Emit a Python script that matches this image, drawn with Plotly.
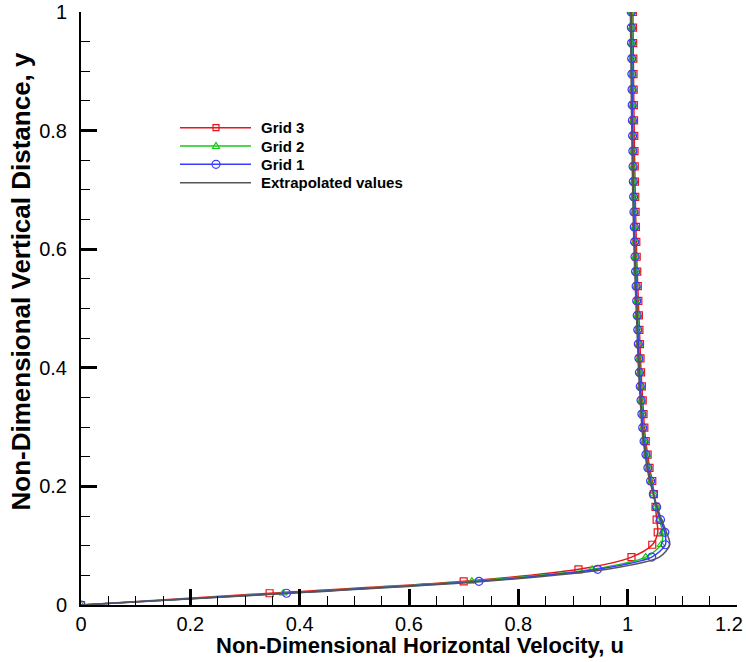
import plotly.graph_objects as go

# Velocity profiles u(y) for three grids and the Richardson-extrapolated profile
y_grid = [0.0, 0.0198, 0.0399, 0.0602, 0.0808, 0.1016, 0.1226, 0.1439, 0.1654, 0.1871,
          0.2091, 0.2313, 0.2537, 0.2763, 0.2991, 0.3220, 0.3452, 0.3686, 0.3922, 0.4160,
          0.4400, 0.4641, 0.4884, 0.5129, 0.5376, 0.5623, 0.5873, 0.6124, 0.6376, 0.6629,
          0.6884, 0.7140, 0.7396, 0.7654, 0.7912, 0.8171, 0.8431, 0.8691, 0.8953, 0.9214,
          0.9476, 0.9738, 1.0]

u_grid3 = [0.000, 0.345, 0.700, 0.910, 1.007, 1.045, 1.055, 1.053, 1.051, 1.048,
           1.045, 1.040, 1.0365, 1.033, 1.0305, 1.029, 1.0275, 1.026, 1.0245, 1.0235,
           1.0225, 1.0215, 1.0205, 1.0195, 1.0185, 1.0175, 1.0165, 1.0158, 1.0151, 1.0145,
           1.0139, 1.0134, 1.0129, 1.0125, 1.0121, 1.0117, 1.0113, 1.0110, 1.0107, 1.0104,
           1.0101, 1.0098, 1.0095]

u_grid2 = [0.000, 0.370, 0.715, 0.935, 1.033, 1.061, 1.064, 1.058, 1.052, 1.047,
           1.043, 1.038, 1.0345, 1.031, 1.0285, 1.027, 1.0255, 1.024, 1.0225, 1.0215,
           1.0205, 1.0195, 1.0185, 1.0175, 1.0165, 1.0155, 1.0145, 1.0138, 1.0131, 1.0125,
           1.0119, 1.0114, 1.0109, 1.0105, 1.0101, 1.0097, 1.0093, 1.0090, 1.0087, 1.0084,
           1.0081, 1.0078, 1.0075]

u_grid1 = [0.000, 0.376, 0.728, 0.945, 1.044, 1.069, 1.068, 1.060, 1.053, 1.047,
           1.042, 1.037, 1.0335, 1.030, 1.0275, 1.026, 1.0245, 1.023, 1.0215, 1.0205,
           1.0195, 1.0185, 1.0175, 1.0165, 1.0155, 1.0145, 1.0135, 1.0128, 1.0121, 1.0115,
           1.0109, 1.0104, 1.0099, 1.0095, 1.0091, 1.0087, 1.0083, 1.0080, 1.0077, 1.0074,
           1.0071, 1.0068, 1.0065]

u_extrap = [0.000, 0.385, 0.740, 0.962, 1.058, 1.077, 1.071, 1.062, 1.054, 1.047,
            1.0405, 1.0355, 1.032, 1.0285, 1.026, 1.0245, 1.023, 1.0215, 1.020, 1.019,
            1.018, 1.017, 1.016, 1.015, 1.014, 1.013, 1.012, 1.0113, 1.0106, 1.010,
            1.0094, 1.0089, 1.0084, 1.008, 1.0076, 1.0072, 1.0068, 1.0065, 1.0062, 1.0059,
            1.0056, 1.0053, 1.005]

x_ticks = [0, 0.2, 0.4, 0.6, 0.8, 1, 1.2]
x_ticktext = ["0", "0.2", "0.4", "0.6", "0.8", "1", ""]
x_end_label = "1.2"   # last label is pulled inside the page edge
y_ticks = [0, 0.2, 0.4, 0.6, 0.8, 1]
y_ticktext = ["0", "0.2", "0.4", "0.6", "0.8", "1"]

series = [
    ("Grid 3", u_grid3, "#e8141b", "square-open", 7),
    ("Grid 2", u_grid2, "#19c819", "triangle-up-open", 7),
    ("Grid 1", u_grid1, "#3a3aff", "circle-open", 8),
]

FONT = "Liberation Sans, Arial, sans-serif"

fig = go.Figure()
for name, u, color, symbol, size in series:
    fig.add_trace(go.Scatter(
        x=u, y=y_grid, name=name, mode="lines+markers",
        line=dict(color=color, width=1.5, shape="spline", smoothing=0.8),
        marker=dict(symbol=symbol, size=size, color=color, line=dict(color=color, width=1.2)),
        showlegend=False,
    ))
fig.add_trace(go.Scatter(
    x=u_extrap, y=y_grid, name="Extrapolated values", mode="lines",
    line=dict(color="#555555", width=1.5, shape="spline", smoothing=0.8),
    showlegend=False,
))

# Legend block drawn with shapes and text (long line samples with centred symbol)
legend_rows = [
    ("Grid 3", "#e8141b", "square", 0.8049),
    ("Grid 2", "#19c819", "triangle", 0.7740),
    ("Grid 1", "#3a3aff", "circle", 0.7432),
    ("Extrapolated values", "#555555", None, 0.7121),
]
lx0, lx1, lxm, ltx = 0.1509, 0.2591, 0.2058, 0.2713
shapes = []
annotations = []
for label, color, sym, ly in legend_rows:
    shapes.append(dict(type="line", xref="paper", yref="paper", x0=lx0, x1=lx1, y0=ly, y1=ly,
                       line=dict(color=color, width=1.5)))
    common = dict(xref="paper", yref="paper", xsizemode="pixel", ysizemode="pixel",
                  xanchor=lxm, yanchor=ly, line=dict(color=color, width=1.2))
    if sym == "square":
        shapes.append(dict(type="rect", x0=-3, x1=3, y0=-3, y1=3, **common))
    elif sym == "circle":
        shapes.append(dict(type="circle", x0=-4, x1=4, y0=-4, y1=4, **common))
    elif sym == "triangle":
        shapes.append(dict(type="path", path="M-3.5,-2.5 L3.5,-2.5 L0,3.5 Z", **common))
    annotations.append(dict(text="<b>%s</b>" % label, xref="paper", yref="paper", x=ltx, y=ly,
                            xanchor="left", yanchor="middle", showarrow=False,
                            font=dict(family=FONT, size=15, color="black")))

annotations.append(dict(text=x_end_label, xref="paper", yref="paper", x=1.012, y=-0.032,
                        xanchor="right", yanchor="middle", showarrow=False,
                        font=dict(family=FONT, size=20, color="black")))
annotations.append(dict(text="<b>Non-Dimensional Horizontal Velocity, u</b>", xref="paper", yref="paper",
                        x=0.5168, y=-0.0675, xanchor="center", yanchor="middle", showarrow=False,
                        font=dict(family=FONT, size=22, color="black")))
annotations.append(dict(text="<b>Non-Dimensional Vertical Distance, y</b>", xref="paper", yref="paper",
                        x=-0.091, y=0.546, xanchor="center", yanchor="middle", showarrow=False,
                        textangle=-90, font=dict(family=FONT, size=26, color="black")))

axis_common = dict(
    showgrid=False, zeroline=False, showline=True, linecolor="black", linewidth=2,
    ticks="inside", ticklen=16, tickwidth=2.5, tickcolor="black",
    tickfont=dict(family=FONT, size=20, color="black"),
    automargin=False, ticklabeloverflow="allow",
)
fig.update_xaxes(range=[0, 1.2], tickmode="array", tickvals=x_ticks, ticktext=x_ticktext,
                 minor=dict(dtick=0.05, tick0=0, ticks="inside", ticklen=9, tickwidth=1.2, tickcolor="black"),
                 **axis_common)
fig.update_yaxes(range=[0, 1], tickmode="array", tickvals=y_ticks, ticktext=y_ticktext,
                 ticklabelstandoff=8,
                 minor=dict(dtick=0.05, tick0=0, ticks="inside", ticklen=9, tickwidth=1.2, tickcolor="black"),
                 **axis_common)

fig.update_layout(
    width=746, height=662,
    margin=dict(l=81, r=9, t=12, b=57),
    paper_bgcolor="white", plot_bgcolor="white",
    shapes=shapes, annotations=annotations,
    font=dict(family=FONT, color="black"),
)

fig.write_html("out.html")
